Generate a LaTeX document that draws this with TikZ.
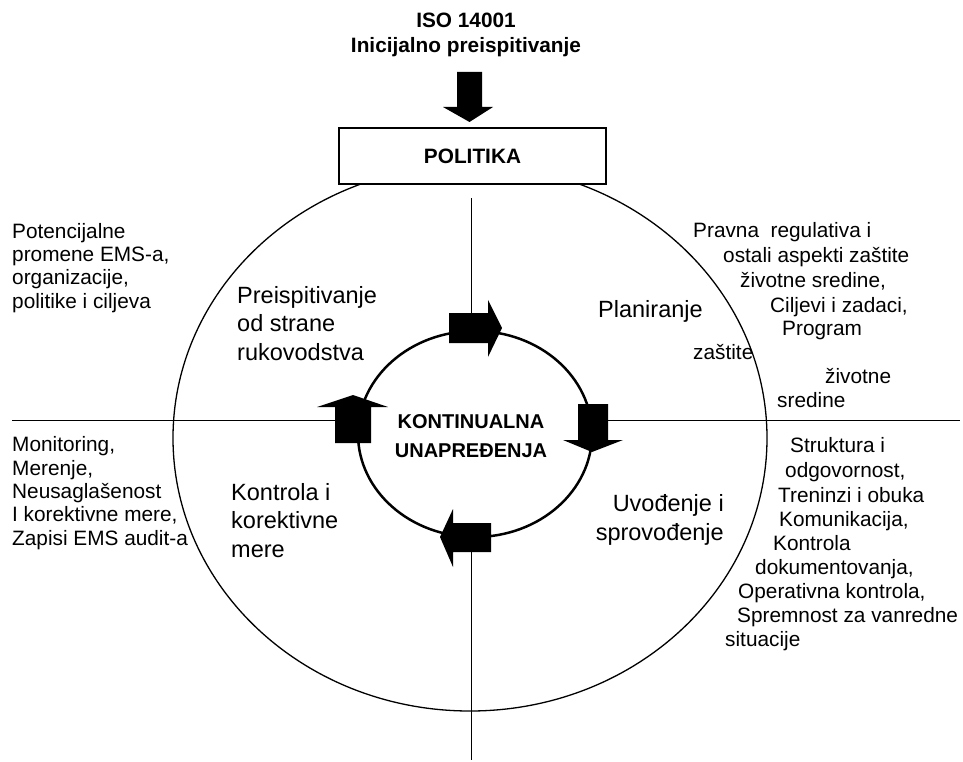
\documentclass[tikz,border=0pt]{standalone}
\usepackage{fontspec}
\setmainfont{Liberation Sans}
\usetikzlibrary{positioning}

\tikzset{
  side/.style={font=\fontsize{20.8}{23.3}\selectfont, inner sep=0pt, align=left, anchor=base west},
  phase/.style={font=\fontsize{23.5}{28.5}\selectfont, inner sep=0pt, align=left, anchor=base west},
  heading/.style={font=\fontsize{20.8}{25}\selectfont\bfseries, inner sep=0pt, align=center},
  axis/.style={line width=1pt},
}

\begin{document}
\begin{tikzpicture}[x=1pt,y=-1pt]
  \useasboundingbox (0,0) rectangle (963,762);
  % the two axes
  \coordinate (vtop) at (471,198);
  \coordinate (vbot) at (471,760);
  \coordinate (hleft) at (12,420);
  \coordinate (hright) at (960,420);
  \draw[axis] (vtop) -- (vbot);
  \draw[axis] (hleft) -- (hright);
  % outer cycle and policy box
  \draw[line width=1.3pt] (470,438) ellipse [x radius=297, y radius=273];
  \node[heading, draw, fill=white, line width=1.3pt, minimum width=267pt, minimum height=56pt] (politika) at (472.5,156) {POLITIKA};
  % base of a multi-line node = its last line
  \node[heading, anchor=base] (iso) at (466,53) {ISO 14001\\Inicijalno preispitivanje};
  \fill (457,72) -- (482,72) -- (482,107) -- (493,107) -- (469.5,122) -- (443,107) -- (457,107) -- cycle;
  % inner cycle
  \draw[line width=2.5pt, fill=white] (475,434) ellipse [x radius=117, y radius=103];
  \node[heading, font=\fontsize{20}{29}\selectfont\bfseries, anchor=base] (kont) at (471,457) {KONTINUALNA\\UNAPREĐENJA};
  % block arrows on the inner cycle
  \fill (449,313) -- (488,313) -- (488,300) -- (502,328) -- (488,357) -- (488,343) -- (449,343) -- cycle;
  \fill (578,404) -- (608,404) -- (608,440) -- (623,440) -- (592,452) -- (563,440) -- (578,440) -- cycle;
  \fill (491,523) -- (491,552) -- (453,552) -- (453,567) -- (440,537) -- (453,509) -- (453,523) -- cycle;
  \fill (335,443) -- (335,407) -- (317,407) -- (353,395) -- (388,407) -- (371,407) -- (371,443) -- cycle;
  % phases
  \node[phase] (preisp) at (237,360) {Preispitivanje\\od strane\\rukovodstva};
  \node[phase] (plan) at (598,317) {Planiranje};
  \node[phase] (kontr) at (231,557) {Kontrola i\\korektivne\\mere};
  \node[phase, anchor=base east, align=right] (uvod) at (724,540) {Uvođenje i\\sprovođenje};
  % side notes
  \node[side] (potenc) at (12,308) {Potencijalne\\promene EMS-a,\\organizacije,\\politike i ciljeva};
  \node[side] (monit) at (12,545) {Monitoring,\\Merenje,\\Neusaglašenost\\I korektivne mere,\\Zapisi EMS audit-a};
  \foreach \x/\y/\t [count=\i] in {693/237/{Pravna\ \ regulativa i}, 723/262/{ostali aspekti zaštite},
      740/287/{životne sredine,}, 770/312/{Ciljevi i zadaci,}, 782/335/{Program},
      693/359/{zaštite}, 825/383/{životne}, 777/407/{sredine}}
    \node[side] (pl\i) at (\x,\y) {\t};
  \foreach \x/\y/\t [count=\i] in {790/452/{Struktura i}, 785/477/{odgovornost,}, 778/502/{Treninzi i obuka},
      779/526/{Komunikacija,}, 773/550/{Kontrola}, 755/574/{dokumentovanja,},
      738/598/{Operativna kontrola,}, 737/622/{Spremnost za vanredne}, 725/646/{situacije}}
    \node[side] (im\i) at (\x,\y) {\t};
\end{tikzpicture}
\end{document}
